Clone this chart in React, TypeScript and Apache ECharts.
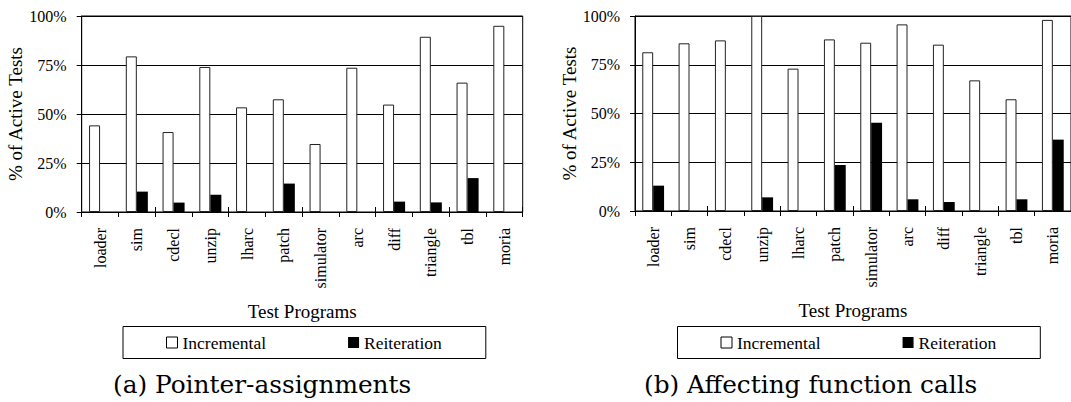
import React, { useEffect, useRef } from "react";
import * as echarts from "echarts";

const categories = ["loader", "sim", "cdecl", "unzip", "lharc", "patch", "simulator", "arc", "diff", "triangle", "tbl", "moria"];
const yTicks = [0, 25, 50, 75, 100];

// (a) Pointer-assignments
const ptrIncremental = [44.2, 79.4, 40.8, 74, 53.4, 57.5, 34.7, 73.6, 54.8, 89.4, 66, 95];
const ptrReiteration = [0, 10.4, 4.8, 8.8, 0, 14.5, 0, 0, 5.3, 4.9, 17.3, 0];

// (b) Affecting function calls
const fnIncremental = [81.4, 86, 87.5, 100, 73, 88, 86.3, 95.7, 85.3, 67, 57.3, 98];
const fnReiteration = [13, 0, 0, 7, 0, 23.6, 45.3, 6, 4.6, 0, 6, 36.6];

const captions = ["(a) Pointer-assignments", "(b) Affecting function calls"];
const seriesNames = ["Incremental", "Reiteration"];
const xName = "Test Programs";
const yName = "% of Active Tests";

const SERIF = "Liberation Serif";

export default function App() {
  const ref = useRef<HTMLDivElement>(null);
  useEffect(() => {
    if (!ref.current) return;
    const chart = echarts.init(ref.current, undefined, { renderer: "svg" });

    const grids = [
      { left: 81.7, top: 16, width: 441, height: 196 },
      { left: 635, top: 16, width: 441, height: 195 },
    ];
    const panels = [
      { inc: ptrIncremental, rei: ptrReiteration, legendLeft: 123, captionX: 113 },
      { inc: fnIncremental, rei: fnReiteration, legendLeft: 677.5, captionX: 644 },
    ];

    const xAxes: any[] = [];
    const yAxes: any[] = [];
    const series: any[] = [];
    const legends: any[] = [];
    const graphics: any[] = [];

    panels.forEach((p, i) => {
      xAxes.push({
        type: "category",
        gridIndex: i,
        data: categories,
        position: "bottom",
        axisLine: { lineStyle: { color: "#000", width: 1 } },
        axisTick: { show: true, length: 5, alignWithLabel: false, lineStyle: { color: "#000" } },
        axisLabel: {
          rotate: 90,
          margin: 16,
          fontSize: 16,
          fontFamily: SERIF,
          color: "#000",
          interval: 0,
        },
        name: xName,
        nameLocation: "middle",
        nameGap: 90,
        nameTextStyle: { fontSize: 19, fontFamily: SERIF, color: "#000" },
      });
      xAxes.push({
        type: "category",
        gridIndex: i,
        data: categories,
        position: "bottom",
        axisLine: { show: false },
        axisTick: { show: true, inside: true, length: 5, alignWithLabel: false, lineStyle: { color: "#000" } },
        axisLabel: { show: false },
      });
      yAxes.push({
        type: "value",
        gridIndex: i,
        min: 0,
        max: 100,
        interval: 25,
        axisLine: { show: true, lineStyle: { color: "#000", width: 1 } },
        axisTick: { show: true, length: 5, lineStyle: { color: "#000" } },
        axisLabel: {
          formatter: (v: number) => (yTicks.includes(v) ? v + "%" : ""),
          fontSize: 16,
          fontFamily: SERIF,
          color: "#000",
          margin: 15,
        },
        splitLine: { show: true, lineStyle: { color: "#000", width: 1 } },
        name: yName,
        nameLocation: "middle",
        nameRotate: 90,
        nameGap: 55,
        nameTextStyle: { fontSize: 19, fontFamily: SERIF, color: "#000" },
      });
      series.push({
        type: "bar",
        name: seriesNames[0],
        xAxisIndex: i * 2,
        yAxisIndex: i,
        data: p.inc,
        barGap: "0%",
        barCategoryGap: "40%",
        itemStyle: { color: "#fff", borderColor: "#222", borderWidth: 1 },
      });
      series.push({
        type: "bar",
        name: seriesNames[1],
        xAxisIndex: i * 2,
        yAxisIndex: i,
        data: p.rei,
        barGap: "0%",
        barCategoryGap: "40%",
        itemStyle: { color: "#000", borderWidth: 0 },
      });
      legends.push({
        left: p.legendLeft,
        top: 326.5,
        orient: "horizontal",
        padding: [7, 44, 7, 43],
        itemGap: 82,
        itemWidth: 11,
        itemHeight: 11,
        borderColor: "#000",
        borderWidth: 1,
        selectedMode: false,
        icon: "rect",
        textStyle: { fontSize: 17.5, fontFamily: SERIF, color: "#000", lineHeight: 18 },
        data: [
          { name: seriesNames[0], itemStyle: { color: "#fff", borderColor: "#000", borderWidth: 1 } },
          { name: seriesNames[1], itemStyle: { color: "#000", borderWidth: 0 } },
        ],
      });
      graphics.push({
        type: "text",
        x: p.captionX,
        y: 384,
        style: {
          text: captions[i],
          fontSize: 24.8,
          fontFamily: "DejaVu Serif",
          fill: "#000",
          verticalAlign: "middle",
          align: "left",
        },
      });
    });

    chart.setOption({
      animation: false,
      backgroundColor: "#fff",
      textStyle: { fontFamily: SERIF, color: "#000" },
      grid: grids.map((g) => ({ ...g, show: true, borderColor: "#000", borderWidth: 1, backgroundColor: "transparent" })),
      xAxis: xAxes,
      yAxis: yAxes,
      series,
      legend: legends,
      graphic: graphics,
    });
    return () => chart.dispose();
  }, []);

  return (
    <div
      ref={ref}
      style={{ position: "fixed", left: 0, top: 0, width: 1071, height: 402, background: "#fff" }}
    />
  );
}
